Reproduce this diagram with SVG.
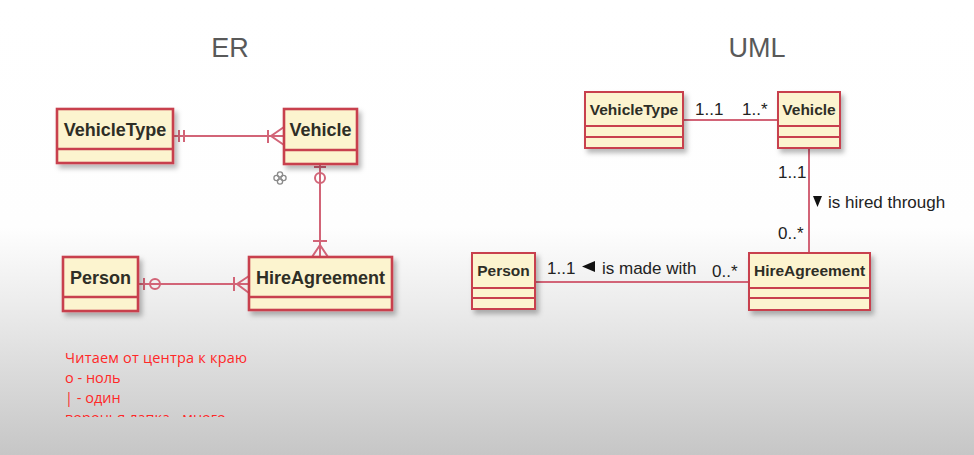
<svg xmlns="http://www.w3.org/2000/svg" width="974" height="455" viewBox="0 0 974 455">
<defs>
<linearGradient id="bg" x1="0" y1="0" x2="0" y2="1">
<stop offset="0" stop-color="#ffffff"/>
<stop offset="0.5" stop-color="#fefefe"/>
<stop offset="0.66" stop-color="#ededed"/>
<stop offset="1" stop-color="#c6c6c6"/>
</linearGradient>
<filter id="sh" x="-10%" y="-10%" width="130%" height="140%">
<feDropShadow dx="3" dy="4" stdDeviation="2.5" flood-color="#000" flood-opacity="0.28"/>
</filter>
<clipPath id="clip4"><rect x="0" y="400" width="400" height="17"/></clipPath>
</defs>
<style>
.box{fill:#fcf4cf;stroke:#c8404e;stroke-width:2.6;filter:url(#sh)}
.ubox{fill:#fcf4cf;stroke:#c8404e;stroke-width:2;filter:url(#sh)}
.div{stroke:#c8404e;stroke-width:2.4}
.udiv{stroke:#c8404e;stroke-width:1.8}
.er{font-family:"Liberation Sans",Arial,sans-serif;font-weight:bold;font-size:18px;fill:#2e2e26}
.um{font-family:"Liberation Sans",Arial,sans-serif;font-weight:bold;font-size:15.5px;fill:#2e2e26}
.ln{stroke:#d26477;stroke-width:2;fill:none}
.lab{font-family:"Liberation Sans",Arial,sans-serif;font-size:17px;fill:#222}
.ttl{font-family:"Liberation Sans",Arial,sans-serif;font-size:27px;fill:#595959}
.red{font-family:"Open Sans","Liberation Sans",sans-serif;font-size:14.5px;fill:#ff2828}
</style>
<rect x="0" y="0" width="974" height="455" fill="url(#bg)"/>
<text class="ttl" x="230" y="57" text-anchor="middle">ER</text>
<text class="ttl" x="757" y="57" text-anchor="middle">UML</text>

<g id="connectors">
<!-- ER VehicleType - Vehicle -->
<line class="ln" x1="173" y1="136" x2="284" y2="136"/>
<line class="ln" x1="179" y1="130" x2="179" y2="142"/>
<line class="ln" x1="184" y1="130" x2="184" y2="142"/>
<line class="ln" x1="268" y1="130" x2="268" y2="143"/>
<polyline class="ln" points="284,127 271,136 284,145"/>
<!-- ER Vehicle - HireAgreement -->
<line class="ln" x1="320" y1="164" x2="320" y2="257"/>
<line class="ln" x1="314" y1="167" x2="326" y2="167"/>
<circle class="ln" cx="320" cy="178" r="5"/>
<line class="ln" x1="313" y1="241" x2="327" y2="241"/>
<polyline class="ln" points="312,257 320,245 328,257"/>
<!-- ER Person - HireAgreement -->
<line class="ln" x1="138" y1="284" x2="249" y2="284"/>
<line class="ln" x1="144" y1="278" x2="144" y2="290"/>
<circle class="ln" cx="155" cy="284" r="5"/>
<line class="ln" x1="234" y1="277" x2="234" y2="291"/>
<polyline class="ln" points="249,276 237,284 249,293"/>
<!-- UML -->
<line class="ln" x1="683" y1="120" x2="778" y2="120"/>
<line class="ln" x1="809" y1="148" x2="809" y2="253"/>
<line class="ln" x1="535" y1="282" x2="749" y2="282"/>
<text class="lab" x="695" y="115">1..1</text>
<text class="lab" x="742" y="115">1..*</text>
<text class="lab" x="778" y="178">1..1</text>
<polygon points="813,196 822,196 817.5,207" fill="#111"/>
<text class="lab" x="828" y="208">is hired through</text>
<text class="lab" x="778" y="239">0..*</text>
<text class="lab" x="547" y="274">1..1</text>
<polygon points="595,261 595,272 582,266.5" fill="#111"/>
<text class="lab" x="602" y="274">is made with</text>
<text class="lab" x="712" y="277">0..*</text>
</g>

<g id="er-vehicletype">
<rect class="box" x="57" y="109" width="116" height="54"/>
<line class="div" x1="57" y1="149" x2="173" y2="149"/>
<text class="er" x="115" y="136" text-anchor="middle">VehicleType</text>
</g>
<g id="er-vehicle">
<rect class="box" x="284" y="109" width="73" height="55"/>
<line class="div" x1="284" y1="150" x2="357" y2="150"/>
<text class="er" x="320.5" y="136" text-anchor="middle">Vehicle</text>
</g>
<g id="er-person">
<rect class="box" x="63" y="257" width="75" height="54"/>
<line class="div" x1="63" y1="297" x2="138" y2="297"/>
<text class="er" x="100.5" y="284" text-anchor="middle">Person</text>
</g>
<g id="er-hireagreement">
<rect class="box" x="249" y="257" width="143" height="53"/>
<line class="div" x1="249" y1="297" x2="392" y2="297"/>
<text class="er" x="320.5" y="284" text-anchor="middle">HireAgreement</text>
</g>

<g id="cursor-mark" fill="none" stroke="#8a8a8a" stroke-width="1.3">
<circle cx="280" cy="174.5" r="2.6"/>
<circle cx="280" cy="181.5" r="2.6"/>
<circle cx="276.5" cy="178" r="2.6"/>
<circle cx="283.5" cy="178" r="2.6"/>
</g>

<g id="uml-vehicletype">
<rect class="ubox" x="585" y="92" width="98" height="56"/>
<line class="udiv" x1="585" y1="126" x2="683" y2="126"/>
<line class="udiv" x1="585" y1="137" x2="683" y2="137"/>
<text class="um" x="634" y="115" text-anchor="middle">VehicleType</text>
</g>
<g id="uml-vehicle">
<rect class="ubox" x="778" y="92" width="62" height="56"/>
<line class="udiv" x1="778" y1="126" x2="840" y2="126"/>
<line class="udiv" x1="778" y1="137" x2="840" y2="137"/>
<text class="um" x="809" y="115" text-anchor="middle">Vehicle</text>
</g>
<g id="uml-person">
<rect class="ubox" x="472" y="253" width="63" height="56"/>
<line class="udiv" x1="472" y1="288" x2="535" y2="288"/>
<line class="udiv" x1="472" y1="298" x2="535" y2="298"/>
<text class="um" x="503.5" y="276" text-anchor="middle">Person</text>
</g>
<g id="uml-hireagreement">
<rect class="ubox" x="749" y="253" width="121" height="57"/>
<line class="udiv" x1="749" y1="288" x2="870" y2="288"/>
<line class="udiv" x1="749" y1="298" x2="870" y2="298"/>
<text class="um" x="809.5" y="276" text-anchor="middle">HireAgreement</text>
</g>

<g id="note">
<text class="red" x="65" y="363" textLength="182">Читаем от центра к краю</text>
<text class="red" x="65" y="383">о - ноль</text>
<text class="red" x="65" y="403">| - один</text>
<text class="red" x="65" y="423" clip-path="url(#clip4)">воронья лапка - много</text>
</g>
</svg>
